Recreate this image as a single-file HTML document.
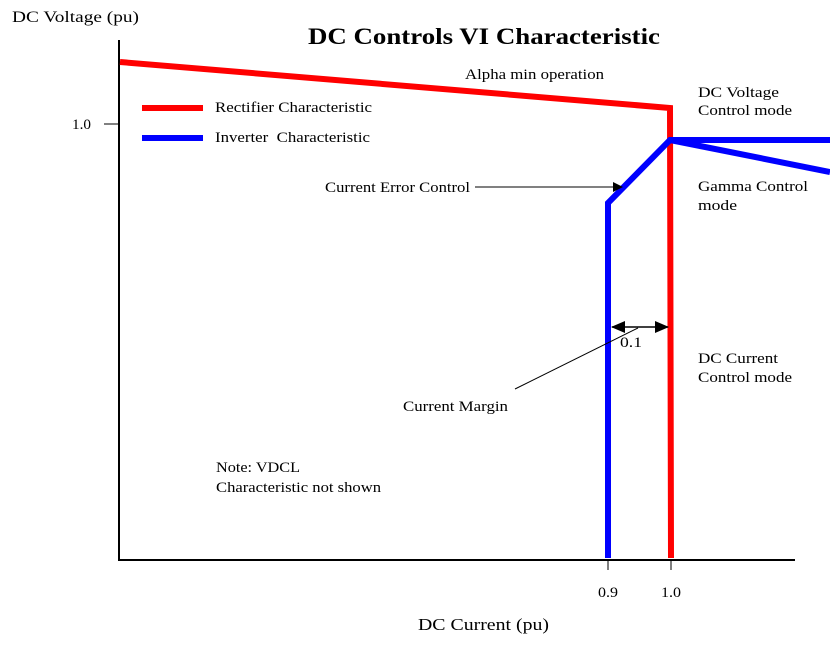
<!DOCTYPE html>
<html><head><style>
body{margin:0;background:#fff;}
svg text{font-family:"Liberation Serif",serif;font-size:15px;fill:#000;}
</style></head><body>
<svg width="830" height="642" xmlns="http://www.w3.org/2000/svg">
<defs>
<marker id="ah" markerWidth="10" markerHeight="10" refX="9" refY="5" orient="auto" markerUnits="userSpaceOnUse">
<path d="M0,0 L10,5 L0,10 z" fill="#000"/></marker>
<marker id="as" markerWidth="14" markerHeight="12" refX="13" refY="6" orient="auto-start-reverse" markerUnits="userSpaceOnUse">
<path d="M0,0 L14,6 L0,12 z" fill="#000"/></marker>
</defs>
<text x="12" y="22" textLength="127" lengthAdjust="spacingAndGlyphs" style="font-size:16px">DC Voltage (pu)</text>
<text x="308" y="44" textLength="352" lengthAdjust="spacingAndGlyphs" style="font-size:23px;font-weight:bold">DC Controls VI Characteristic</text>
<text x="465" y="79" textLength="139" lengthAdjust="spacingAndGlyphs">Alpha min operation</text>
<text x="698" y="97" textLength="81" lengthAdjust="spacingAndGlyphs">DC Voltage</text>
<text x="698" y="115" textLength="94" lengthAdjust="spacingAndGlyphs">Control mode</text>
<text x="698" y="191" textLength="110" lengthAdjust="spacingAndGlyphs">Gamma Control</text>
<text x="698" y="210" textLength="39" lengthAdjust="spacingAndGlyphs">mode</text>
<text x="215" y="112" textLength="157" lengthAdjust="spacingAndGlyphs">Rectifier Characteristic</text>
<text x="215" y="142" textLength="155" lengthAdjust="spacingAndGlyphs" xml:space="preserve">Inverter  Characteristic</text>
<text x="325" y="192" textLength="145" lengthAdjust="spacingAndGlyphs">Current Error Control</text>
<text x="620" y="347" textLength="22" lengthAdjust="spacingAndGlyphs">0.1</text>
<text x="698" y="363" textLength="80" lengthAdjust="spacingAndGlyphs">DC Current</text>
<text x="698" y="382" textLength="94" lengthAdjust="spacingAndGlyphs">Control mode</text>
<text x="403" y="411" textLength="105" lengthAdjust="spacingAndGlyphs">Current Margin</text>
<text x="216" y="472" textLength="84" lengthAdjust="spacingAndGlyphs">Note: VDCL</text>
<text x="216" y="492" textLength="165" lengthAdjust="spacingAndGlyphs">Characteristic not shown</text>
<text x="72" y="129" textLength="19" lengthAdjust="spacingAndGlyphs">1.0</text>
<text x="598" y="597" textLength="20" lengthAdjust="spacingAndGlyphs">0.9</text>
<text x="661" y="597" textLength="20" lengthAdjust="spacingAndGlyphs">1.0</text>
<text x="418" y="630" textLength="131" lengthAdjust="spacingAndGlyphs" style="font-size:17px">DC Current (pu)</text>
<line x1="119" y1="40" x2="119" y2="560" stroke="#000" stroke-width="2"/>
<line x1="118" y1="560" x2="795" y2="560" stroke="#000" stroke-width="2"/>
<line x1="104" y1="124" x2="119" y2="124" stroke="#000" stroke-width="1"/>
<line x1="608" y1="560" x2="608" y2="570" stroke="#000" stroke-width="1"/>
<line x1="671" y1="560" x2="671" y2="570" stroke="#000" stroke-width="1"/>
<line x1="142" y1="108" x2="203" y2="108" stroke="#f00" stroke-width="6"/>
<line x1="142" y1="138" x2="203" y2="138" stroke="#00f" stroke-width="6"/>
<polyline points="120,62 670,108 671,558" fill="none" stroke="#f00" stroke-width="6"/>
<polyline points="608,558 608,203 670,140 830,140" fill="none" stroke="#00f" stroke-width="6"/>
<line x1="670" y1="140" x2="830" y2="172" stroke="#00f" stroke-width="6"/>
<line x1="475" y1="187" x2="622" y2="187" stroke="#000" stroke-width="1" marker-end="url(#ah)"/>
<line x1="612" y1="327" x2="668" y2="327" stroke="#000" stroke-width="1.5" marker-start="url(#as)" marker-end="url(#as)"/>
<line x1="515" y1="389" x2="638" y2="328" stroke="#000" stroke-width="1"/>
</svg>
</body></html>
